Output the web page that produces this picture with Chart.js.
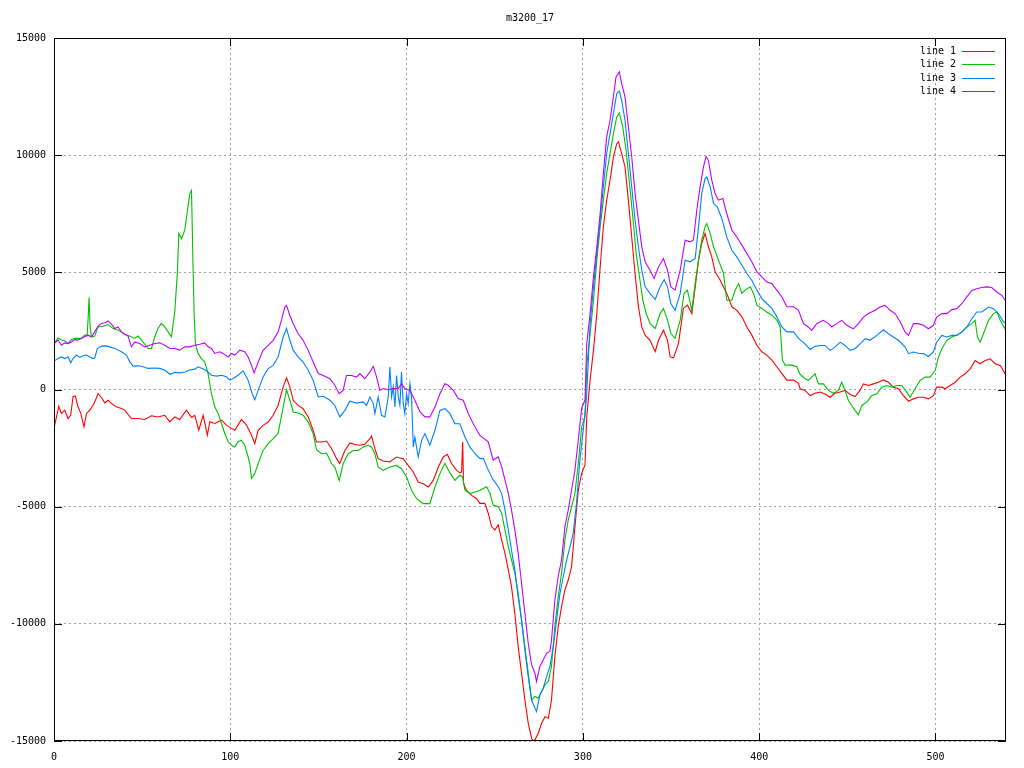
<!DOCTYPE html>
<html>
<head>
<meta charset="utf-8">
<title>m3200_17</title>
<script src="https://cdn.jsdelivr.net/npm/chart.js@4/dist/chart.umd.min.js"></script>
<style>
  html, body { margin: 0; padding: 0; background: #fff; }
  canvas { display: block; }
</style>
</head>
<body>
<canvas id="graphique" width="1024" height="768"></canvas>
<script>
// titre et légende
const titre = "m3200_17";
const noms = ["line 1", "line 2", "line 3", "line 4"];
const couleurs = ["#ff0000", "#00c000", "#0080ff", "#c000ff"];

// graduations des axes
const xTicks = [0, 100, 200, 300, 400, 500];
const yTicks = [-15000, -10000, -5000, 0, 5000, 10000, 15000];

// valeurs : [x, y]
const line1 = [
    [0,-1660],[2.7,-710],[4.2,-1020],[6.1,-880],[8,-1240],[9.5,-1090],[10.8,-310],[12.1,-280],[13.6,-740],[15.2,-1020],
    [17,-1590],[18.4,-1020],[20.3,-880],[22.2,-670],[23.5,-460],[25,-170],[26.9,-340],[28.8,-570],[30.7,-460],[32.6,-600],
    [35.4,-740],[38.2,-810],[40.1,-880],[43.9,-1240],[47.7,-1240],[51.5,-1280],[55.3,-1120],[59,-1170],[62.8,-1100],[65.7,-1380],
    [68.5,-1170],[71.3,-1280],[75.1,-880],[78,-1190],[79.9,-1100],[82.1,-1740],[84.6,-1100],[87,-1950],[88.4,-1380],[91.2,-1450],
    [95,-1310],[97.8,-1520],[100.7,-1660],[102.6,-1740],[106.3,-1280],[109.2,-1520],[112,-1950],[113.9,-2300],[115.8,-1740],[118.6,-1530],
    [121.5,-1390],[124.3,-1100],[127.1,-680],[130,110],[131.9,500],[133.8,110],[135.7,-460],[138.5,-680],[141.3,-820],[144.2,-1170],
    [147,-1740],[148.9,-2240],[151.7,-2240],[154.6,-2200],[157.4,-2520],[160.3,-2950],[162.1,-3160],[165,-2600],[167.8,-2280],[170.7,-2350],
    [173.5,-2380],[176.3,-2340],[179.2,-2100],[180.1,-1980],[182,-2520],[183.9,-2950],[186.7,-3050],[190.5,-3090],[194.3,-2880],[198.1,-2950],
    [200.9,-3240],[203.8,-3520],[206.6,-3950],[209.4,-4020],[212.3,-4160],[215.1,-3880],[218,-3310],[220.8,-2880],[223.1,-2770],[225.5,-3160],
    [228.4,-3450],[230.3,-3560],[231.2,-3520],[231.8,-2240],[232.3,-4020],[234,-4300],[236.9,-4520],[239.7,-4660],[241.6,-4860],[244.4,-4860],
    [246.3,-5280],[248.2,-5850],[250.1,-5990],[252,-5780],[253.9,-6420],[255.8,-6990],[257.7,-7700],[259.5,-8410],[261.4,-9550],[263.3,-10970],
    [265.2,-12110],[267.1,-13250],[269,-14240],[270.9,-14880],[271.8,-15000],[272.8,-14950],[274.7,-14670],[276.6,-14240],[278.5,-13960],[280.4,-14030],
    [282.2,-13250],[284.1,-11400],[286,-10120],[287.9,-9260],[289.8,-8550],[291.7,-8130],[293.6,-7560],[295.5,-5850],[297.4,-4290],[299.3,-3580],
    [301.2,-3220],[302.2,-1160],[304.1,400],[306,1680],[307.9,3240],[309.8,5230],[311.6,6940],[313.5,8080],[315.4,8930],[317.3,9930],
    [319.2,10490],[320.2,10570],[322,10070],[323.9,9500],[325.8,8080],[327.7,6510],[329.6,4950],[331.5,3530],[333.4,2670],[335.3,2320],
    [338.1,2100],[341,1610],[342.9,2100],[345.7,2530],[348,2100],[349.5,1390],[351.4,1350],[354.2,1960],[357,3460],[359.3,3600],
    [361.8,3240],[363.7,4380],[365.6,5520],[367.4,6230],[369.3,6660],[371.2,6090],[373.1,5660],[375,5020],[377.9,4660],[381.6,4100],
    [384.5,3530],[387.3,3380],[390.2,3100],[393,2670],[395.8,2320],[398.7,1890],[401.5,1610],[404.3,1470],[407.2,1250],[410,970],
    [412.9,680],[415.7,400],[419.5,400],[422.3,260],[423.2,30],[426,-40],[428.9,-260],[431.7,-160],[434.5,-110],[437.4,-190],
    [440.2,-330],[443,-160],[445.9,-110],[448.7,-40],[451.6,-210],[454.4,-300],[457.2,-40],[459.1,240],[462,170],[464.8,240],
    [467.6,310],[470.5,410],[473.3,310],[476.1,100],[479,30],[481.8,-260],[484.7,-500],[487.5,-400],[490.3,-330],[493.2,-330],
    [496,-400],[498.8,-260],[500.7,100],[503.6,100],[505.5,30],[508.3,170],[511.2,310],[514,530],[516.8,670],[519.7,880],
    [522.5,1240],[525.3,1100],[528.2,1240],[531,1310],[533.8,1100],[536.7,1030],[539.5,670],[540,600]
];

const line2 = [
    [0,1960],[2.3,2200],[4.2,2110],[6.1,2080],[8,1960],[9.9,2130],[11.8,2180],[13.6,2180],[15.5,2180],[17.4,2320],
    [18.8,2320],[19.3,2960],[19.9,3930],[20.5,2670],[21.2,2250],[23.1,2280],[25,2670],[27.8,2700],[30.7,2770],[33.5,2600],
    [36.3,2530],[38.2,2460],[40.1,2360],[42.9,2280],[45.8,2180],[47.7,2280],[49.6,2110],[51.5,1930],[53.4,1750],[55.3,1750],
    [57.2,2250],[59,2600],[60.9,2820],[62.8,2670],[64.7,2460],[66.6,2250],[68.5,3310],[70,5020],[70.8,6660],[72.3,6440],
    [74.2,6800],[75.7,7650],[77,8360],[78,8500],[78.9,5090],[79.5,3240],[80.2,1960],[81.7,1540],[83.6,1320],[85.5,1180],
    [87.4,680],[89.3,-170],[91.2,-740],[93.1,-1020],[95,-1450],[96.9,-1880],[98.8,-2230],[100.7,-2380],[102.6,-2450],[104.4,-2230],
    [106.3,-2160],[108.2,-2380],[110.1,-2870],[111.1,-3160],[112,-3800],[113.9,-3590],[115.8,-3160],[118.6,-2600],[121.5,-2310],[124.3,-2100],
    [127.1,-1880],[130,-750],[131.9,-10],[133.8,-460],[135.7,-960],[138.5,-1000],[141.3,-1100],[144.2,-1390],[147,-1880],[148.9,-2570],
    [151.7,-2740],[154.6,-2710],[157.4,-3160],[159.3,-3310],[161.8,-3880],[164,-3160],[166.9,-2740],[169.7,-2600],[172.6,-2600],[175.4,-2450],
    [178.2,-2380],[180.1,-2450],[182,-2740],[183.9,-3310],[186.7,-3450],[190.5,-3310],[194.3,-3240],[197.1,-3380],[200,-3730],[202.8,-4300],
    [205.7,-4660],[209.4,-4870],[213.2,-4870],[216.1,-4160],[218.9,-3590],[221.7,-3160],[224.6,-3560],[227.4,-3880],[230.2,-3660],[231.8,-3730],
    [233.1,-4300],[235.9,-4440],[238.8,-4370],[241.6,-4300],[245.4,-4150],[247.3,-4430],[249.1,-4930],[252,-5000],[253.9,-5280],[255.8,-5990],
    [257.7,-6710],[259.5,-7270],[261.4,-7840],[263.3,-8700],[265.2,-9830],[267.1,-10970],[269,-12110],[270.9,-13250],[272.8,-13100],[274.7,-13180],
    [276.6,-12890],[278.5,-12610],[280.4,-12460],[282.2,-11820],[284.1,-10120],[286,-8840],[287.9,-7840],[289.8,-6420],[291.7,-5570],[293.6,-5000],
    [295.5,-4430],[297.4,-3150],[299.3,-1590],[301.2,-1160],[302.2,1000],[304.1,2390],[306,3810],[307.9,5520],[309.8,6940],[311.6,8080],
    [313.5,9220],[315.4,10070],[317.3,10920],[319.2,11630],[320.7,11800],[322.6,11210],[324.5,10210],[326.4,8790],[328.3,7370],[330.2,5800],
    [332.1,4810],[334,3810],[335.9,3240],[338.1,2820],[341,2600],[343.8,3240],[345.7,3460],[348,2960],[349.9,2390],[352.3,2180],
    [355.2,2960],[357.4,4100],[359.3,4240],[361.8,3380],[363.7,4520],[365.6,5520],[367.4,6370],[369.3,6940],[370.3,7080],[372.2,6660],
    [374.1,6090],[376.9,5520],[379.8,4950],[381.6,3810],[384.5,3810],[386.4,4240],[388.3,4520],[390.2,4100],[392,4240],[394.9,4380],
    [396.8,4100],[398.7,3600],[401.5,3460],[404.3,3310],[407.2,3170],[410,2960],[411.9,2670],[413.2,1250],[414.7,1040],[418.5,1040],
    [421.4,970],[422.9,680],[426,460],[427.9,390],[429.8,530],[431.7,670],[433.6,240],[436.4,240],[439.3,-40],[442.1,-160],
    [444.9,-40],[446.8,310],[448.7,-40],[450.6,-470],[452.5,-680],[454.4,-900],[456.3,-1070],[458.2,-680],[461,-540],[463.9,-260],
    [466.7,-190],[469.5,100],[472.4,170],[475.2,100],[478,170],[480.9,170],[483.7,-110],[485.6,-330],[488.4,30],[491.3,390],
    [494.1,530],[496.9,530],[499.8,810],[501.7,1380],[503.6,1740],[506.4,2100],[509.3,2240],[512.1,2310],[514.9,2450],[517.8,2670],
    [520.6,2810],[522.5,2950],[523.8,2240],[525.3,2020],[527.2,2380],[530.1,2950],[532.9,3240],[534.8,3310],[536.7,2950],[539.5,2590],
    [540,2550]
];

const line3 = [
    [0,1210],[2.3,1320],[4.2,1390],[6.1,1320],[8,1390],[9.5,1140],[10.8,1320],[12.7,1470],[14.6,1370],[16.5,1440],
    [18.4,1470],[20.3,1390],[22.2,1320],[23.1,1350],[24.6,1750],[26.9,1850],[29.7,1860],[31.6,1820],[34.5,1750],[36.3,1680],
    [38.2,1610],[41.1,1470],[43,1180],[44.9,1000],[47.7,1010],[50.5,970],[53.4,900],[57.2,920],[60,900],[62.8,830],
    [65.7,650],[68.5,730],[71.3,710],[74.2,750],[77,830],[79.9,870],[81.7,970],[84.6,870],[86.5,800],[89.3,610],
    [92.2,570],[95,610],[97.8,540],[99.7,400],[101.6,470],[104.4,610],[107.3,800],[110.1,400],[112.4,-170],[113.9,-440],
    [115.8,-40],[118.6,530],[121.5,890],[124.3,1030],[127.1,1390],[130,2240],[131.9,2600],[133.8,2100],[135.7,1670],[138.5,1390],
    [141.3,1170],[144.2,820],[147,390],[149.9,-320],[152.7,-290],[156.5,-460],[159.3,-680],[162.1,-1170],[165,-890],[167.8,-500],
    [171.6,-580],[175.4,-530],[177.3,-680],[179.2,-320],[181.1,-600],[182,-1030],[183.9,-320],[185.8,-1100],[187.7,-1170],[189.6,-320],
    [190.5,960],[191.5,-320],[192.4,110],[193.4,-750],[194.3,600],[195.3,-320],[196.2,-680],[197.1,750],[198.1,-600],[199,-1030],
    [200,-180],[200.9,-600],[201.9,250],[202.8,-320],[203.8,-2450],[204.7,-2030],[206.6,-2880],[208.5,-2170],[210.4,-1880],[213.2,-2380],
    [216.1,-1740],[218.9,-890],[221.7,-820],[224.6,-1030],[227.4,-1460],[230.2,-1460],[233.1,-2030],[235.9,-2450],[238.8,-2740],[241.6,-2950],
    [243.5,-2940],[246.3,-3430],[249.1,-3860],[252,-4150],[253.9,-4430],[255.8,-5140],[257.7,-5990],[259.5,-6850],[261.4,-7700],[263.3,-8840],
    [265.2,-9830],[267.1,-11110],[269,-12250],[270.9,-13250],[272.8,-13600],[273.7,-13740],[275.6,-13030],[277.5,-12750],[279.4,-12250],[281.3,-11820],
    [283.2,-10970],[285.1,-9830],[287,-8700],[288.9,-7980],[290.8,-7270],[292.7,-6710],[294.5,-6140],[296.4,-4860],[298.3,-3010],[300.2,-1730],
    [302.1,-310],[304.1,2820],[306,4380],[307.9,5800],[309.8,7220],[311.6,8650],[313.5,10070],[315.4,10920],[317.3,11770],[319.2,12630],
    [320.7,12740],[322,12340],[323.9,11490],[325.8,10070],[327.7,8650],[329.6,7220],[331.5,6090],[333.4,5090],[335.3,4380],[338.1,4100],
    [341,3840],[343.8,4380],[346.1,4690],[348,4380],[349.9,3670],[352.3,3380],[355.2,4100],[358,5520],[360.8,5450],[363.7,5590],
    [365.6,6940],[367.4,8360],[369.3,9000],[370.3,9070],[372.2,8650],[374.1,7940],[376.3,7790],[378.8,7300],[381.6,6510],[384.5,5940],
    [387.3,5660],[390.2,5300],[393,4950],[395.8,4660],[398.7,4240],[401.5,3880],[404.3,3670],[407.2,3460],[410,3100],[412.9,2670],
    [415.7,2460],[419.5,2460],[422.3,2180],[426,1950],[428.9,1710],[431.7,1840],[434.5,1880],[437.4,1880],[440.2,1670],[443,1810],
    [445.9,2020],[448.7,1880],[451.6,1670],[454.4,1740],[457.2,1950],[460.1,2170],[462.9,2100],[466.7,2310],[470.5,2550],[473.3,2380],
    [476.1,2240],[479,2100],[482.8,1810],[484.7,1530],[487.5,1600],[490.3,1550],[493.2,1530],[496,1410],[498.8,1600],[500.7,2020],
    [503.6,2310],[506.4,2240],[509.3,2310],[512.1,2310],[514.9,2450],[517.8,2670],[520.6,3020],[523.4,3310],[526.3,3310],[530.1,3520],
    [532.9,3450],[535.7,3240],[538.6,2880],[540,2850]
];

const line4 = [
    [0,1960],[2.3,2110],[4.2,1890],[6.1,1990],[8,1960],[9.9,2030],[11.8,2130],[13.6,2110],[15.5,2180],[17.4,2250],
    [19.3,2320],[21.2,2250],[23.1,2460],[25,2700],[26.9,2820],[28.8,2840],[30.7,2930],[32.6,2790],[34.5,2600],[36.3,2670],
    [38.2,2460],[40.1,2360],[42,2280],[43.9,1820],[45.8,2030],[48.6,1960],[51.5,1820],[54.3,1890],[57.2,1960],[60,1990],
    [62.8,1890],[65.7,1750],[68.5,1750],[71.3,1680],[74.2,1820],[77,1820],[79.9,1890],[82.7,1930],[85.5,1990],[87.4,1820],
    [89.3,1750],[91.2,1540],[94,1610],[95.9,1540],[98.8,1390],[100.7,1540],[102.6,1470],[105.4,1680],[108.2,1610],[110.1,1390],
    [112,1040],[113.5,710],[115.8,1170],[118.6,1670],[121.5,1880],[124.3,2100],[127.1,2450],[129,2950],[130.9,3520],[131.9,3590],
    [133.8,3160],[135.7,2810],[138.5,2380],[141.3,2100],[144.2,1670],[147,1170],[149.9,680],[152.7,600],[156.5,460],[159.3,180],
    [161.8,-180],[164,-40],[165.9,600],[168.8,600],[171.6,530],[173.5,680],[176.3,460],[179.2,750],[181.1,990],[183,530],
    [184.8,-40],[186.7,40],[189.6,-10],[192.4,40],[195.3,40],[197.1,250],[199,40],[201.9,-40],[204.7,-460],[207.6,-960],
    [210.4,-1170],[213.2,-1170],[216.1,-750],[218.9,-180],[221.7,250],[223.6,180],[226.5,-40],[229.3,-390],[232.1,-460],[235,-1030],
    [237.8,-1460],[241.6,-1960],[246.3,-2230],[249.1,-3010],[252,-2870],[253.9,-3290],[255.8,-3860],[257.7,-4430],[259.5,-5140],[261.4,-5990],
    [263.3,-6990],[265.2,-8270],[267.1,-9550],[269,-10830],[270.9,-11750],[272.8,-12110],[273.7,-12460],[275.6,-11820],[277.5,-11540],[279.4,-11260],
    [281.3,-11180],[282.2,-10690],[284.1,-8980],[286,-7980],[287.9,-7270],[289.8,-5850],[291.7,-5140],[293.6,-4290],[295.5,-3430],[297.4,-2150],
    [299.3,-800],[301.2,-450],[302.2,1960],[304.1,3240],[306,4810],[307.9,6090],[309.8,7510],[311.6,9220],[313.5,10780],[315.4,11490],
    [317.3,12490],[318.8,13340],[320.7,13550],[322,13050],[323.9,12490],[325.8,11210],[327.7,9930],[329.6,8360],[331.5,7220],[333.4,6090],
    [335.3,5450],[338.1,5090],[340.4,4740],[342.9,5230],[345.7,5590],[348,5090],[349.9,4380],[352.3,4240],[355.2,5090],[358,6370],
    [360.8,6300],[362.7,6370],[364.6,7650],[366.5,8650],[368.4,9500],[369.9,9950],[371.2,9780],[373.1,8930],[375,8360],[376.9,8080],
    [379.4,8150],[381.6,7510],[384.5,6800],[387.3,6510],[390.2,6160],[393,5800],[395.8,5450],[398.7,5020],[401.5,4810],[404.3,4590],
    [407.2,4520],[410,4240],[412.9,3950],[415.7,3530],[419.5,3530],[422.3,3380],[425.1,2810],[427.9,2670],[429.8,2520],[432.6,2810],
    [436.4,2950],[439.3,2810],[441.1,2670],[444,2810],[446.8,2950],[449.7,2740],[453.4,2590],[456.3,2810],[459.1,3090],[462,3240],
    [465.7,3380],[468.6,3520],[471.4,3590],[474.3,3380],[477.1,3240],[480,2880],[482.8,2450],[484.7,2310],[487.5,2810],[490.3,2810],
    [493.2,2740],[496,2590],[498.8,2740],[500.7,3090],[503.6,3240],[506.4,3240],[509.3,3410],[512.1,3450],[514.9,3660],[517.8,3950],
    [520.6,4230],[523.4,4300],[526.3,4350],[529.1,4380],[531.9,4350],[534.8,4160],[537.6,4020],[539.5,3810],[540,3750]
];

const series = [line1, line2, line3, line4];
const police = "10px 'DejaVu Sans Mono', 'Liberation Mono', monospace";

// cadre, petites graduations, légende et titre façon gnuplot
const cadreGnuplot = {
    id: "cadreGnuplot",
    afterDraw(chart) {
        const { ctx, chartArea: a, scales } = chart;
        ctx.save();
        ctx.strokeStyle = "#000";
        ctx.lineWidth = 1;
        ctx.setLineDash([]);
        ctx.strokeRect(a.left + 0.5, a.top + 0.5, a.right - a.left - 1, a.bottom - a.top - 1);

        ctx.beginPath();
        for (const v of xTicks) {
            const px = Math.round(scales.x.getPixelForValue(v)) + 0.5;
            ctx.moveTo(px, a.bottom);
            ctx.lineTo(px, a.bottom - 8);
            ctx.moveTo(px, a.top);
            ctx.lineTo(px, a.top + 8);
        }
        for (const v of yTicks) {
            const py = Math.round(scales.y.getPixelForValue(v)) + 0.5;
            ctx.moveTo(a.left, py);
            ctx.lineTo(a.left + 8, py);
            ctx.moveTo(a.right, py);
            ctx.lineTo(a.right - 8, py);
        }
        ctx.stroke();

        // légende
        ctx.font = police;
        ctx.fillStyle = "#000";
        ctx.textAlign = "right";
        ctx.textBaseline = "middle";
        for (let i = 0; i < noms.length; i++) {
            const y = Math.round(51 + i * 13.3) + 0.5;
            ctx.fillText(noms[i], 956, y);
            ctx.strokeStyle = couleurs[i];
            ctx.lineWidth = 1.2;
            ctx.beginPath();
            ctx.moveTo(962, y);
            ctx.lineTo(995, y);
            ctx.stroke();
        }

        // titre
        ctx.textAlign = "center";
        ctx.fillText(titre, (a.left + a.right) / 2, 18);
        ctx.restore();
    },
};

const config = {
    type: "line",
    data: {
        datasets: series.map((s, i) => ({
            label: noms[i],
            data: s.map(([x, y]) => ({ x: x, y: y })),
            borderColor: couleurs[i],
            backgroundColor: couleurs[i],
            borderWidth: 1.1,
            pointRadius: 0,
            tension: 0,
            fill: false,
            order: 4 - i,
        })),
    },
    options: {
        responsive: false,
        animation: false,
        layout: { padding: { top: 38, right: 18, left: 0, bottom: 0 } },
        plugins: {
            legend: { display: false },
            title: { display: false },
            tooltip: { enabled: false },
        },
        scales: {
            x: {
                type: "linear",
                min: 0,
                max: 540,
                afterBuildTicks: axis => {
                    axis.ticks = xTicks.map(v => ({ value: v }));
                },
                afterFit: axis => {
                    axis.height = 27;
                },
                ticks: {
                    autoSkip: false,
                    maxRotation: 0,
                    padding: 10,
                    color: "#000",
                    font: { family: "'DejaVu Sans Mono', monospace", size: 10 },
                    callback: v => String(v),
                },
                grid: { color: "#a0a0a0", drawTicks: false },
                border: { display: false, dash: [2, 3] },
            },
            y: {
                min: -15000,
                max: 15000,
                afterBuildTicks: axis => {
                    axis.ticks = yTicks.map(v => ({ value: v }));
                },
                afterFit: axis => {
                    axis.width = 54;
                },
                ticks: {
                    padding: 8,
                    color: "#000",
                    font: { family: "'DejaVu Sans Mono', monospace", size: 10 },
                    callback: v => String(v),
                },
                grid: { color: "#a0a0a0", drawTicks: false },
                border: { display: false, dash: [2, 3] },
            },
        },
    },
    plugins: [cadreGnuplot],
};

new Chart(document.querySelector("#graphique"), config);
</script>
</body>
</html>
